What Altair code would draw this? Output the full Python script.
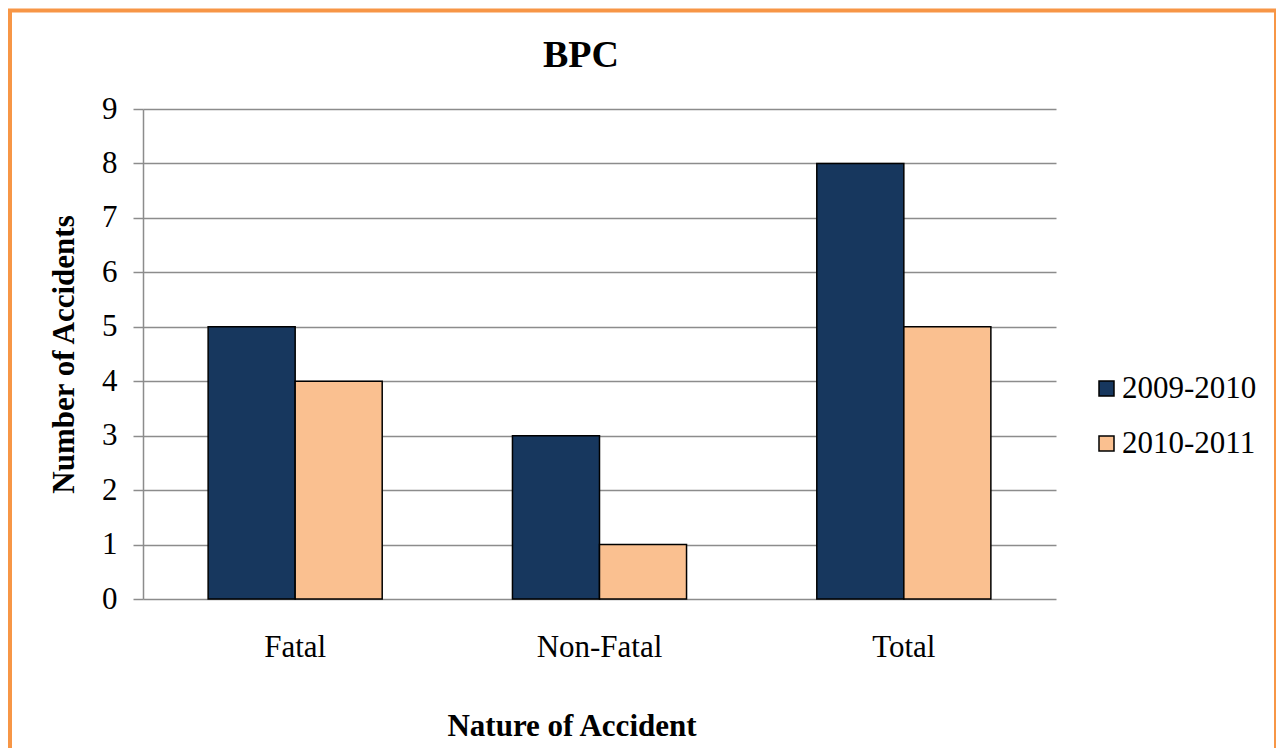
import altair as alt
import pandas as pd

categories = ["Fatal", "Non-Fatal", "Total"]
years = ["2009-2010", "2010-2011"]
values_2009_2010 = [5, 3, 8]
values_2010_2011 = [4, 1, 5]
bar_colors = ["#17375E", "#FAC090"]
y_ticks = [0, 1, 2, 3, 4, 5, 6, 7, 8, 9]
chart_title = "BPC"

rows = []
for i, c in enumerate(categories):
    rows.append({"category": c, "year": years[0], "value": values_2009_2010[i]})
    rows.append({"category": c, "year": years[1], "value": values_2010_2011[i]})
df = pd.DataFrame(rows)

FONT = "Liberation Serif"
GRID = "#8C8C8C"

bars = alt.Chart(df).mark_bar(stroke="black", strokeWidth=1.5).encode(
    x=alt.X(
        "category:N",
        sort=categories,
        scale=alt.Scale(paddingInner=0.428, paddingOuter=0.214),
        axis=alt.Axis(
            title="Nature of Accident",
            labelAngle=0,
            labelFont=FONT,
            labelFontSize=31,
            labelColor="black",
            labelBaseline="alphabetic",
            labelPadding=57,
            ticks=False,
            domain=False,
            titleFont=FONT,
            titleFontSize=31,
            titleFontWeight="bold",
            titleColor="black",
            titleX=428.5,
            titleY=136,
            titleBaseline="alphabetic",
            titleAlign="center",
        ),
    ),
    xOffset=alt.XOffset("year:N", sort=years, scale=alt.Scale(paddingInner=0, paddingOuter=0)),
    y=alt.Y(
        "value:Q",
        scale=alt.Scale(domain=[0, 9], nice=False),
        axis=alt.Axis(
            title="Number of Accidents",
            values=y_ticks,
            format="d",
            labelFont=FONT,
            labelFontSize=31,
            labelColor="black",
            labelPadding=16,
            tickSize=10,
            tickColor=GRID,
            tickWidth=1.5,
            domainColor=GRID,
            domainWidth=1.5,
            grid=True,
            gridColor=GRID,
            gridWidth=1.5,
            titleFont=FONT,
            titleFontSize=31,
            titleFontWeight="bold",
            titleColor="black",
            titleAngle=270,
            titleX=-70,
            titleY=245,
            titleBaseline="alphabetic",
            titleAlign="center",
        ),
    ),
    color=alt.Color(
        "year:N",
        sort=years,
        scale=alt.Scale(domain=years, range=bar_colors),
        legend=alt.Legend(
            title=None,
            orient="none",
            legendX=948,
            legendY=264,
            padding=0,
            symbolType="square",
            symbolSize=225,
            symbolStrokeColor="black",
            symbolStrokeWidth=1.5,
            symbolOpacity=1,
            labelFont=FONT,
            labelFontSize=31,
            labelColor="black",
            labelOffset=0,
            rowPadding=23,
        ),
    ),
)

title_df = pd.DataFrame({"label": [chart_title]})
title_mark = alt.Chart(title_df).mark_text(
    font=FONT, fontSize=38, fontWeight="bold", color="black",
    align="center", baseline="alphabetic",
).encode(text="label:N", x=alt.value(438), y=alt.value(-42))

border_df = pd.DataFrame({"k": [0]})
border_color = "#F79646"
left_border = alt.Chart(border_df).mark_rule(color=border_color, strokeWidth=4).encode(
    x=alt.value(-133), y=alt.value(-100), y2=alt.value(700)
)
top_border = alt.Chart(border_df).mark_rule(color=border_color, strokeWidth=4).encode(
    x=alt.value(-135), x2=alt.value(1135), y=alt.value(-98.5)
)
right_border = alt.Chart(border_df).mark_rule(color=border_color, strokeWidth=2).encode(
    x=alt.value(1132), y=alt.value(-100), y2=alt.value(700)
)

chart = alt.layer(bars, title_mark, left_border, top_border, right_border).properties(
    width=913,
    height=490,
    autosize=alt.AutoSizeParams(type="none"),
    padding={"left": 135, "top": 101, "right": 220, "bottom": 149},
).configure_view(strokeWidth=0)

chart.save("out.html", embed_options={"renderer": "svg", "actions": False})
